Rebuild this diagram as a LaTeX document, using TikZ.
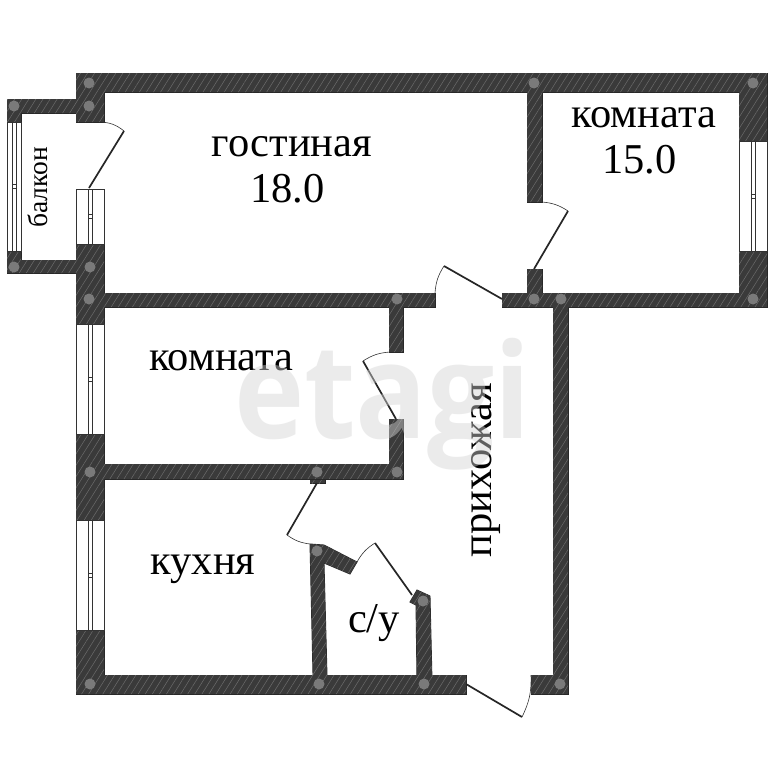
\documentclass[tikz,border=0pt]{standalone}
\usepackage{fontspec}
\setmainfont{Liberation Serif}
\newfontfamily\markfont{Open Sans}
\usetikzlibrary{patterns.meta}
\definecolor{walldark}{HTML}{3A3A3A}
\definecolor{wallhatch}{HTML}{6C6C6C}
\definecolor{columngrey}{HTML}{7A7A7A}
\definecolor{markgrey}{HTML}{D4D4D4}
\begin{document}
\begin{tikzpicture}[x=1pt, y=-1pt]
    \tikzstyle{wall}=[fill=walldark, preaction={draw=black!85, line width=0.9pt}, postaction={pattern={Lines[angle=58, distance=6pt, line width=0.5pt]}, pattern color=wallhatch}]
    \tikzstyle{winline}=[draw=black!80, line width=0.5pt, fill=white]
    \tikzstyle{leaf}=[draw=black!85, line width=1.7pt]
    \tikzstyle{swing}=[draw=black!80, line width=0.6pt]
    \tikzstyle{room}=[inner sep=0pt, anchor=base, text=black, font=\fontsize{42.5}{42.5}\selectfont]

    \fill[white] (0,0) rectangle (768,768);
    \useasboundingbox (0,0) rectangle (768,768);

    % walls of the wc first
    \path[wall] (310,544) -- (324,545) -- (357,562) -- (350,574) -- (324,563) -- (327,675) -- (313,675) -- cycle;
    \path[wall] (417,590) -- (430,596) -- (432,680) -- (417,680) -- (416,605) -- (410,602) -- cycle;
    \path[wall] (310,475) rectangle (325,483);

    % main walls
    \path[wall] (76,73) rectangle (767,92)
      (76,73) rectangle (104,122)
      (7,99) rectangle (76,113)
      (7,99) rectangle (21,122)
      (7,251) rectangle (21,273)
      (7,260) rectangle (76,273)
      (76,244) rectangle (104,324)
      (76,434) rectangle (104,520)
      (76,630) rectangle (104,694)
      (76,675) rectangle (466,694)
      (531,675) rectangle (568,694)
      (104,293) rectangle (435,307)
      (502,293) rectangle (767,307)
      (527,92) rectangle (542,202)
      (527,269) rectangle (542,293)
      (739,92) rectangle (767,141)
      (739,251) rectangle (767,307)
      (553,307) rectangle (568,675)
      (104,464) rectangle (403,479)
      (389,307) rectangle (403,352)
      (389,419) rectangle (403,464);

    % windows
    \foreach \xa/\ya/\xb/\yb in {7/122/21/251, 76/189/104/244, 739/141/767/251, 76/324/104/434, 76/520/104/630} {
      \pgfmathsetmacro\xm{(\xa+\xb)/2}
      \pgfmathsetmacro\ym{(\ya+\yb)/2}
      \draw[winline] (\xa,\ya) rectangle (\xb,\yb);
      \draw[winline] (\xm-2,\ya) rectangle (\xm+2,\yb);
      \draw[winline] (\xm-2,\ym-2) rectangle (\xm+2,\ym+2);
    }

    % doors
    \draw[leaf] (89,188) -- (124,131);
    \draw[swing] (100,122) to[bend left=18] (124,131);
    \draw[leaf] (534,269) -- (568,211);
    \draw[swing] (542,202) to[bend left=14] (568,211);
    \draw[leaf] (502,299) -- (444,266);
    \draw[swing] (444,266) to[bend right=14] (435,293);
    \draw[leaf] (396,419) -- (363,361);
    \draw[swing] (363,361) to[bend left=14] (390,352);
    \draw[leaf] (317,483) -- (287,535);
    \draw[swing] (287,535) to[bend right=14] (310,544);
    \draw[leaf] (412,595) -- (375,543);
    \draw[swing] (375,543) to[bend right=14] (357,562);
    \draw[leaf] (466,684) -- (522,717);
    \draw[swing] (522,717) to[bend right=14] (531,675);

    % columns
    \foreach \cx/\cy in {89/83, 89/106, 14/106, 14/267, 90/267, 89/299, 534/83, 753/83, 534/299, 561/299, 753/299, 397/299, 90/472, 317/472, 397/472, 317/551, 319/684, 424/684, 423/601, 560/684, 90/684} {
      \fill[columngrey] (\cx,\cy) circle (5.5);
    }

    % labels
    \node[room] (living) at (292,156) {гостиная};
    \node[room] (livingarea) at (287.5,202) {18.0};
    \node[room] (roomone) at (644,127) {комната};
    \node[room] (roomonearea) at (639.5,173) {15.0};
    \node[room] (roomtwo) at (221.5,370) {комната};
    \node[room] (kitchen) at (203,574) {кухня};
    \node[room] (wc) at (374,632) {с/у};
    \node[room, rotate=90, font=\fontsize{27.5}{27.5}\selectfont] (balcony) at (47,187.5) {балкон};
    \node[room, rotate=90] (hallway) at (491,470) {прихожая};

    \node[inner sep=0pt, anchor=base, text=markgrey, text opacity=0.45, xscale=0.9, font=\markfont\bfseries\fontsize{132}{132}\selectfont] (watermark) at (382.5,438) {etagi};
  \end{tikzpicture}
\end{document}
